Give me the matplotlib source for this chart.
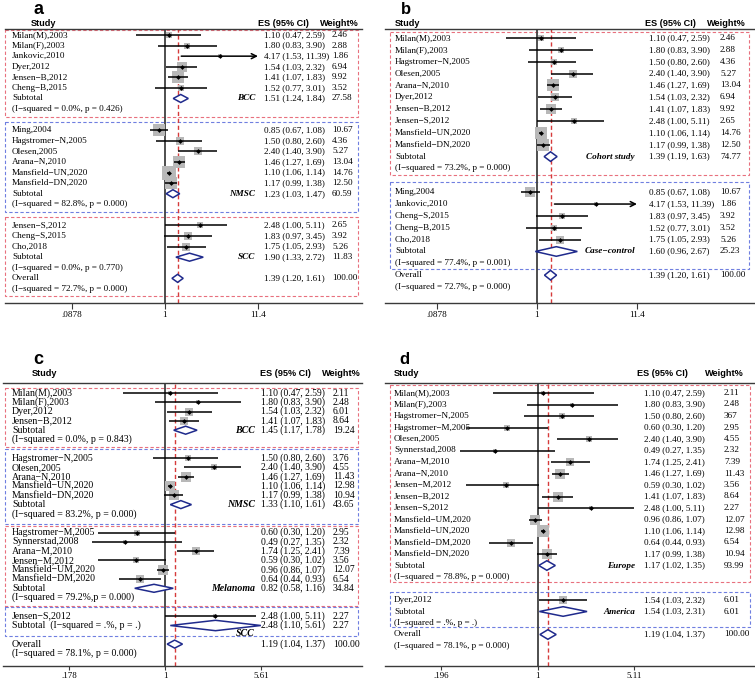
import numpy as np
import matplotlib
matplotlib.use("Agg")
import matplotlib.pyplot as plt
from matplotlib.transforms import blended_transform_factory
from matplotlib.patches import Rectangle, Polygon
from matplotlib.ticker import NullLocator

plt.rcParams['font.family'] = ['Liberation Serif', 'DejaVu Serif']

W, H = 755, 682

# ---------------- panel a : by cancer type ----------------
a_study = ["Milan(M),2003", "Milan(F),2003", "Jankovic,2010", "Dyer,2012", "Jensen−B,2012", "Cheng−B,2015",
           "Ming,2004", "Hagstromer−N,2005", "Olesen,2005", "Arana−N,2010", "Mansfield−UN,2020", "Mansfield−DN,2020",
           "Jensen−S,2012", "Cheng−S,2015", "Cho,2018"]
a_es = [1.10, 1.80, 4.17, 1.54, 1.41, 1.52, 0.85, 1.50, 2.40, 1.46, 1.10, 1.17, 2.48, 1.83, 1.75]
a_lo = [0.47, 0.83, 1.53, 1.03, 1.07, 0.77, 0.67, 0.80, 1.40, 1.27, 1.06, 0.99, 1.00, 0.97, 1.05]
a_hi = [2.59, 3.90, 11.39, 2.32, 1.83, 3.01, 1.08, 2.60, 3.90, 1.69, 1.14, 1.38, 5.11, 3.45, 2.93]
a_wt = [2.46, 2.88, 1.86, 6.94, 9.92, 3.52, 10.67, 4.36, 5.27, 13.04, 14.76, 12.50, 2.65, 3.92, 5.26]
a_grp = [0, 0, 0, 0, 0, 0, 1, 1, 1, 1, 1, 1, 2, 2, 2]
a_sub_name = ["BCC", "NMSC", "SCC"]
a_sub_es = [1.51, 1.23, 1.90]
a_sub_lo = [1.24, 1.03, 1.33]
a_sub_hi = [1.84, 1.47, 2.72]
a_sub_wt = [27.58, 60.59, 11.83]
a_sub_het = ["(I−squared = 0.0%, p = 0.426)", "(I−squared = 82.8%, p = 0.000)", "(I−squared = 0.0%, p = 0.770)"]
a_overall = [1.39, 1.20, 1.61]
a_overall_het = "(I−squared = 72.7%, p = 0.000)"
a_ticks = [0.0878, 1, 11.4]
a_ticklabels = [".0878", "1", "11.4"]

# ---------------- panel b : by study design ----------------
b_study = ["Milan(M),2003", "Milan(F),2003", "Hagstromer−N,2005", "Olesen,2005", "Arana−N,2010", "Dyer,2012",
           "Jensen−B,2012", "Jensen−S,2012", "Mansfield−UN,2020", "Mansfield−DN,2020",
           "Ming,2004", "Jankovic,2010", "Cheng−S,2015", "Cheng−B,2015", "Cho,2018"]
b_es = [1.10, 1.80, 1.50, 2.40, 1.46, 1.54, 1.41, 2.48, 1.10, 1.17, 0.85, 4.17, 1.83, 1.52, 1.75]
b_lo = [0.47, 0.83, 0.80, 1.40, 1.27, 1.03, 1.07, 1.00, 1.06, 0.99, 0.67, 1.53, 0.97, 0.77, 1.05]
b_hi = [2.59, 3.90, 2.60, 3.90, 1.69, 2.32, 1.83, 5.11, 1.14, 1.38, 1.08, 11.39, 3.45, 3.01, 2.93]
b_wt = [2.46, 2.88, 4.36, 5.27, 13.04, 6.94, 9.92, 2.65, 14.76, 12.50, 10.67, 1.86, 3.92, 3.52, 5.26]
b_grp = [0, 0, 0, 0, 0, 0, 0, 0, 0, 0, 1, 1, 1, 1, 1]
b_sub_name = ["Cohort study", "Case−control"]
b_sub_es = [1.39, 1.60]
b_sub_lo = [1.19, 0.96]
b_sub_hi = [1.63, 2.67]
b_sub_wt = [74.77, 25.23]
b_sub_het = ["(I−squared = 73.2%, p = 0.000)", "(I−squared = 77.4%, p = 0.001)"]
b_overall = [1.39, 1.20, 1.61]
b_overall_het = "(I−squared = 72.7%, p = 0.000)"
b_ticks = [0.0878, 1, 11.4]
b_ticklabels = [".0878", "1", "11.4"]

# ---------------- panel c : by skin cancer subtype ----------------
c_study = ["Milan(M),2003", "Milan(F),2003", "Dyer,2012", "Jensen−B,2012",
           "Hagstromer−N,2005", "Olesen,2005", "Arana−N,2010", "Mansfield−UN,2020", "Mansfield−DN,2020",
           "Hagstromer−M,2005", "Synnerstad,2008", "Arana−M,2010", "Jensen−M,2012", "Mansfield−UM,2020",
           "Mansfield−DM,2020", "Jensen−S,2012"]
c_es = [1.10, 1.80, 1.54, 1.41, 1.50, 2.40, 1.46, 1.10, 1.17, 0.60, 0.49, 1.74, 0.59, 0.96, 0.64, 2.48]
c_lo = [0.47, 0.83, 1.03, 1.07, 0.80, 1.40, 1.27, 1.06, 0.99, 0.30, 0.27, 1.25, 0.30, 0.86, 0.44, 1.00]
c_hi = [2.59, 3.90, 2.32, 1.83, 2.60, 3.90, 1.69, 1.14, 1.38, 1.20, 1.35, 2.41, 1.02, 1.07, 0.93, 5.11]
c_wt = [2.11, 2.48, 6.01, 8.64, 3.76, 4.55, 11.43, 12.98, 10.94, 2.95, 2.32, 7.39, 3.56, 12.07, 6.54, 2.27]
c_grp = [0, 0, 0, 0, 1, 1, 1, 1, 1, 2, 2, 2, 2, 2, 2, 3]
c_sub_name = ["BCC", "NMSC", "Melanoma", "SCC"]
c_sub_es = [1.45, 1.33, 0.82, 2.48]
c_sub_lo = [1.17, 1.10, 0.58, 1.10]
c_sub_hi = [1.78, 1.61, 1.16, 5.61]
c_sub_wt = [19.24, 43.65, 34.84, 2.27]
c_sub_het = ["(I−squared = 0.0%, p = 0.843)", "(I−squared = 83.2%, p = 0.000)",
             "(I−squared = 79.2%,p = 0.000)", "(I−squared = .%, p = .)"]
c_overall = [1.19, 1.04, 1.37]
c_overall_het = "(I−squared = 78.1%, p = 0.000)"
c_ticks = [0.178, 1, 5.61]
c_ticklabels = [".178", "1", "5.61"]

# ---------------- panel d : by region ----------------
d_study = ["Milan(M),2003", "Milan(F),2003", "Hagstromer−N,2005", "Hagstromer−M,2005", "Olesen,2005",
           "Synnerstad,2008", "Arana−M,2010", "Arana−N,2010", "Jensen−M,2012", "Jensen−B,2012", "Jensen−S,2012",
           "Mansfield−UM,2020", "Mansfield−UN,2020", "Mansfield−DM,2020", "Mansfield−DN,2020", "Dyer,2012"]
d_es = [1.10, 1.80, 1.50, 0.60, 2.40, 0.49, 1.74, 1.46, 0.59, 1.41, 2.48, 0.96, 1.10, 0.64, 1.17, 1.54]
d_lo = [0.47, 0.83, 0.80, 0.30, 1.40, 0.27, 1.25, 1.27, 0.30, 1.07, 1.00, 0.86, 1.06, 0.44, 0.99, 1.03]
d_hi = [2.59, 3.90, 2.60, 1.20, 3.90, 1.35, 2.41, 1.69, 1.02, 1.83, 5.11, 1.07, 1.14, 0.93, 1.38, 2.32]
d_wt = [2.11, 2.48, 3.67, 2.95, 4.55, 2.32, 7.39, 11.43, 3.56, 8.64, 2.27, 12.07, 12.98, 6.54, 10.94, 6.01]
d_wt_shown = {2: "367"}
d_grp = [0] * 15 + [1]
d_sub_name = ["Europe", "America"]
d_sub_es = [1.17, 1.54]
d_sub_lo = [1.02, 1.03]
d_sub_hi = [1.35, 2.31]
d_sub_wt = [93.99, 6.01]
d_sub_het = ["(I−squared = 78.8%, p = 0.000)", "(I−squared = .%, p = .)"]
d_overall = [1.19, 1.04, 1.37]
d_overall_het = "(I−squared = 78.1%, p = 0.000)"
d_ticks = [0.196, 1, 5.11]
d_ticklabels = [".196", "1", "5.11"]

RED_BOX = '#e8707e'
BLUE_BOX = '#6f7fe0'
NAVY = '#1f2a8c'
GREY_BOX = '#b8b8b8'
REF_RED = '#d63a3a'


def X(px):
    return px / W


def Y(py):
    return 1 - py / H


def draw_panel(fig, D, L):
    l, t, r, b = L['ax_px']
    ax = fig.add_axes([l / W, 1 - b / H, (r - l) / W, (b - t) / H])
    ax.set_xscale('log')
    row0, sp = L['row0'], L['sp']
    tr = blended_transform_factory(fig.transFigure, ax.transData)
    fs = L['fs']
    efs = L['es_fs']

    ax.axvline(1, color='#404040', lw=1.3, zorder=1)
    ax.axvline(D['overall'][0], color=REF_RED, lw=1.0, ls=(0, (3, 2)), zorder=1)

    def diamond(es, lo, hi, row, dh):
        h = dh / sp
        ax.add_patch(Polygon([(lo, row), (es, row - h), (hi, row), (es, row + h)], closed=True,
                             facecolor='white', edgecolor=NAVY, lw=1.1, zorder=3, clip_on=False))

    def es_text(row, es, lo, hi, wt_txt):
        ax.text(X(L['es_x']), row, f"{es:.2f} ({lo:.2f}, {hi:.2f})", transform=tr,
                va='center', ha='left', fontsize=efs)
        ax.text(X(L['wt_x']), row, wt_txt, transform=tr, va='center', ha='left', fontsize=efs)

    grp = np.array(D['grp'])
    ng = len(D['sub_name'])
    row = 0
    for g in range(ng):
        for i in np.where(grp == g)[0]:
            es, lo, hi, w = D['es'][i], D['lo'][i], D['hi'][i], D['wt'][i]
            side = L['k'] * np.sqrt(w) * 72 / 100
            ax.scatter([es], [row], marker='s', s=side ** 2, color=GREY_BOX, linewidths=0, zorder=2)
            if hi > L.get('arrow_at', 1e9):
                ax.annotate('', xy=(hi, row), xytext=(lo, row),
                            arrowprops=dict(arrowstyle='->', color='k', lw=1.1, shrinkA=0, shrinkB=0,
                                            mutation_scale=9), zorder=3)
            else:
                ax.plot([lo, hi], [row, row], color='black', lw=1.1, zorder=3, solid_capstyle='butt')
            ax.scatter([es], [row], marker='D', s=6, color='k', linewidths=0, zorder=4)
            ax.text(X(L['study_x']), row, D['study'][i], transform=tr, va='center', ha='left', fontsize=fs)
            es_text(row, es, lo, hi, D['wt_shown'].get(i, f"{w:.2f}"))
            row += 1
        # subtotal
        combined = g in L['combined']
        diamond(D['sub_es'][g], D['sub_lo'][g], D['sub_hi'][g], row, L['dh'] * (1.3 if combined else 1.0))
        es_text(row, D['sub_es'][g], D['sub_lo'][g], D['sub_hi'][g], f"{D['sub_wt'][g]:.2f}")
        if combined:
            ax.text(X(L['study_x']), row, "Subtotal  " + D['sub_het'][g], transform=tr,
                    va='center', ha='left', fontsize=fs)
            ax.text(X(L['lab_r']), row + 0.85, D['sub_name'][g], transform=tr, va='center', ha='right',
                    fontsize=fs, fontweight='bold', fontstyle='italic')
        else:
            ax.text(X(L['study_x']), row, "Subtotal", transform=tr, va='center', ha='left', fontsize=fs)
            ax.text(X(L['lab_r']), row, D['sub_name'][g], transform=tr, va='center', ha='right',
                    fontsize=fs, fontweight='bold', fontstyle='italic')
            ax.text(X(L['study_x']), row + 1, D['sub_het'][g], transform=tr, va='center', ha='left',
                    fontsize=fs)
        row += 2
        if g < ng - 1:
            row += 1
    # overall
    oe, ol, oh = D['overall']
    diamond(oe, ol, oh, row, L['dh'])
    es_text(row, oe, ol, oh, "100.00")
    ax.text(X(L['study_x']), row, "Overall", transform=tr, va='center', ha='left', fontsize=fs)
    ax.text(X(L['study_x']), row + 1, D['overall_het'], transform=tr, va='center', ha='left', fontsize=fs)

    # dashed group boxes
    bx0, bx1 = L['box_x']
    for col, r0, r1 in L['boxes']:
        ax.add_patch(Rectangle((X(bx0), r0), X(bx1) - X(bx0), r1 - r0, transform=tr, fill=False,
                               edgecolor=RED_BOX if col == 'r' else BLUE_BOX, lw=0.8,
                               ls=(0, (3, 2)), clip_on=False, zorder=0.5))

    # axes cosmetics
    ax.set_xlim(10 ** ((l - L['one_px']) / L['ppd']), 10 ** ((r - L['one_px']) / L['ppd']))
    ax.set_ylim((b - row0) / sp, (t - row0) / sp)
    for s in ['left', 'right']:
        ax.spines[s].set_visible(False)
    for s in ['top', 'bottom']:
        ax.spines[s].set_color('#3a3a3a')
        ax.spines[s].set_linewidth(1.0)
    ax.set_yticks([])
    ax.set_xticks(D['ticks'])
    ax.set_xticklabels(D['ticklabels'], fontsize=L['tick_fs'])
    ax.xaxis.set_minor_locator(NullLocator())
    ax.tick_params(axis='x', which='major', length=L['tick_len'], width=0.8, color='#3a3a3a',
                   pad=L['tick_pad'])
    ax.patch.set_alpha(0)

    # header
    hx = L['head_x']
    hy = Y(L['head_y'])
    for x, s in zip(hx, ["Study", "ES (95% CI)", "Weight%"]):
        fig.text(X(x), hy, s, fontfamily='Liberation Sans', fontweight='bold', fontsize=L['head_fs'],
                 va='center', ha='left')
    lt, lx, ly, lsz = L['letter']
    fig.text(X(lx), Y(ly), lt, fontfamily='Liberation Sans', fontweight='bold', fontsize=lsz,
             va='baseline', ha='center')
    return ax


def pack(study, es, lo, hi, wt, grp, sub_name, sub_es, sub_lo, sub_hi, sub_wt, sub_het,
         overall, overall_het, ticks, ticklabels, wt_shown=None):
    return dict(study=study, es=es, lo=lo, hi=hi, wt=wt, grp=grp, sub_name=sub_name, sub_es=sub_es,
                sub_lo=sub_lo, sub_hi=sub_hi, sub_wt=sub_wt, sub_het=sub_het, overall=overall,
                overall_het=overall_het, ticks=ticks, ticklabels=ticklabels, wt_shown=wt_shown or {})


DA = pack(a_study, a_es, a_lo, a_hi, a_wt, a_grp, a_sub_name, a_sub_es, a_sub_lo, a_sub_hi, a_sub_wt,
          a_sub_het, a_overall, a_overall_het, a_ticks, a_ticklabels)
DB = pack(b_study, b_es, b_lo, b_hi, b_wt, b_grp, b_sub_name, b_sub_es, b_sub_lo, b_sub_hi, b_sub_wt,
          b_sub_het, b_overall, b_overall_het, b_ticks, b_ticklabels)
DC = pack(c_study, c_es, c_lo, c_hi, c_wt, c_grp, c_sub_name, c_sub_es, c_sub_lo, c_sub_hi, c_sub_wt,
          c_sub_het, c_overall, c_overall_het, c_ticks, c_ticklabels)
DD = pack(d_study, d_es, d_lo, d_hi, d_wt, d_grp, d_sub_name, d_sub_es, d_sub_lo, d_sub_hi, d_sub_wt,
          d_sub_het, d_overall, d_overall_het, d_ticks, d_ticklabels, d_wt_shown)

LA = dict(ax_px=(5, 29, 362, 303), one_px=165, ppd=88, row0=35, sp=10.58,
          study_x=12, es_x=264, wt_x=332, lab_r=255, head_y=24, head_x=(31, 258, 320),
          letter=('a', 39, 14, 13), box_x=(5, 358),
          boxes=[('r', -0.47, 7.75), ('b', 8.22, 16.73), ('r', 17.2, 24.67)],
          k=3.6, fs=6.6, es_fs=6.6, head_fs=6.6, tick_fs=6.6, tick_len=4, tick_pad=2,
          dh=4.0, arrow_at=11, combined=())
LB = dict(ax_px=(385, 29, 754, 303), one_px=537, ppd=94.6, row0=38, sp=11.86,
          study_x=395, es_x=649, wt_x=720, lab_r=635, head_y=24, head_x=(395, 645, 707),
          letter=('b', 406, 14, 12), box_x=(390, 749),
          boxes=[('r', -0.51, 11.55), ('b', 12.14, 19.48)],
          k=3.2, fs=6.6, es_fs=6.6, head_fs=6.6, tick_fs=6.6, tick_len=4, tick_pad=2,
          dh=4.8, arrow_at=11, combined=())
LC = dict(ax_px=(3, 383, 362, 666), one_px=165, ppd=128, row0=393, sp=9.3,
          study_x=12, es_x=261, wt_x=333, lab_r=255, head_y=373, head_x=(32, 260, 322),
          letter=('c', 38, 364, 13), box_x=(5, 358),
          boxes=[('r', -0.54, 5.85), ('b', 6.02, 14.1), ('r', 14.3, 22.85), ('b', 23.0, 26.1)],
          k=3.0, fs=7.1, es_fs=6.9, head_fs=6.6, tick_fs=6.4, tick_len=3, tick_pad=1,
          dh=4.0, combined=(3,))
LD = dict(ax_px=(385, 383, 754, 666), one_px=537.6, ppd=136, row0=393, sp=11.5,
          study_x=394, es_x=644, wt_x=724, lab_r=635, head_y=373, head_x=(394, 637, 705),
          letter=('d', 404, 364, 12), box_x=(390, 750),
          boxes=[('r', -0.7, 16.43), ('b', 17.3, 20.35)],
          k=3.1, fs=6.6, es_fs=6.6, head_fs=6.6, tick_fs=6.4, tick_len=3, tick_pad=1,
          dh=4.8, combined=())

fig = plt.figure(figsize=(W / 100, H / 100), dpi=100)
fig.patch.set_facecolor('white')
draw_panel(fig, DA, LA)
draw_panel(fig, DB, LB)
draw_panel(fig, DC, LC)
draw_panel(fig, DD, LD)
fig.savefig("out.png", dpi=100, facecolor='white')
